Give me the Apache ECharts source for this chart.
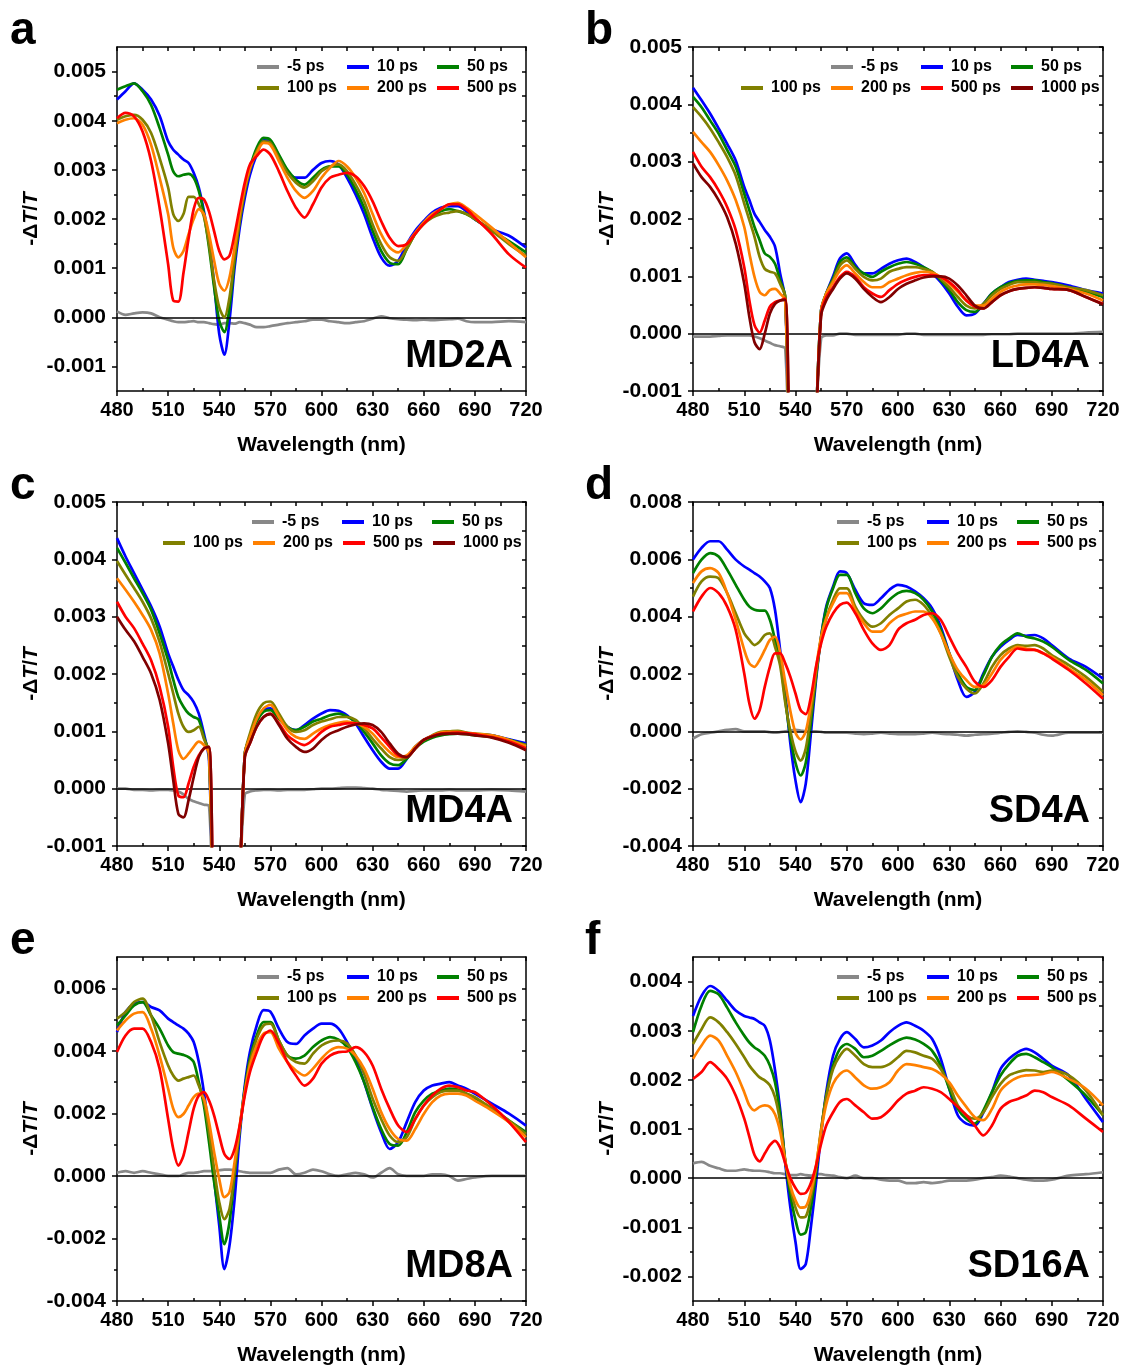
<!DOCTYPE html>
<html><head><meta charset="utf-8">
<script src="https://cdn.jsdelivr.net/npm/echarts@6.0.0/dist/echarts.min.js"></script>
<style>html,body{margin:0;padding:0;background:#fff}#chart{width:1123px;height:1369px}</style>
</head><body><div id="chart"></div>
<script>
// ---------- shared wavelength grid (nm) ----------
const wl = [480,485,490,495,500,505,510, 513,516,519,522,525,528,531,534,537,540,543,546,549,552,555,558, 562,566,570, 575,580,585,590,595,600,605,610,615,620,625,630,635,640,645,650,655,660,665,670,675,680,685,690, 700,710,720];
const names = ['-5 ps','10 ps','50 ps','100 ps','200 ps','500 ps','1000 ps'];
const xMajor = [480,510,540,570,600,630,660,690,720];
const xMinor = [495,525,555,585,615,645,675,705];
// y tick values in units of 1e-3
const yMajorA = [-1,0,1,2,3,4,5];       const yMinorA = [-0.5,0.5,1.5,2.5,3.5,4.5];
const yMajorB = [-1,0,1,2,3,4,5];       const yMinorB = [-0.5,0.5,1.5,2.5,3.5,4.5];
const yMajorD = [-4,-2,0,2,4,6,8];      const yMinorD = [-3,-1,1,3,5,7];
const yMajorE = [-4,-2,0,2,4,6];        const yMinorE = [-3,-1,1,3,5];
const yMajorF = [-2,-1,0,1,2,3,4];      const yMinorF = [-1.5,-0.5,0.5,1.5,2.5,3.5];

// ---------- data (-dT/T, units of 1e-3) ----------
// Panel a : MD2A
const aM5  = [0.12,0.05,0.08,0.10,0.08,0.00,-0.05, -0.08,-0.10,-0.10,-0.09,-0.08,-0.10,-0.10,-0.12,-0.14,-0.15,-0.12,-0.12,-0.13,-0.10,-0.12,-0.15, -0.20,-0.20,-0.18, -0.15,-0.12,-0.10,-0.08,-0.05,-0.05,-0.08,-0.10,-0.12,-0.10,-0.08,-0.03,0.02,-0.02,-0.04,-0.05,-0.06,-0.05,-0.06,-0.05,-0.04,-0.03,-0.08,-0.10, -0.10,-0.08,-0.10];
const a10  = [4.43,4.60,4.76,4.63,4.43,4.10,3.58, 3.41,3.31,3.21,3.14,2.94,2.64,2.16,1.55,0.68,-0.34,-0.76,-0.07,1.01,1.82,2.43,2.90, 3.31,3.60,3.58, 3.28,2.97,2.84,2.84,3.00,3.14,3.18,3.11,2.84,2.50,2.10,1.62,1.22,1.05,1.15,1.49,1.76,1.96,2.13,2.23,2.26,2.26,2.16,1.99, 1.79,1.66,1.42];
const a50  = [4.63,4.70,4.76,4.60,4.32,3.85,3.31, 2.97,2.87,2.90,2.92,2.84,2.57,2.10,1.42,0.61,-0.07,-0.30,0.20,1.15,1.96,2.57,3.04, 3.45,3.65,3.61, 3.31,3.00,2.80,2.70,2.84,3.00,3.07,3.07,2.90,2.60,2.23,1.76,1.35,1.11,1.08,1.39,1.70,1.93,2.06,2.16,2.20,2.16,2.10,2.00, 1.76,1.55,1.32];
const a100 = [4.02,4.09,4.12,4.02,3.75,3.24,2.64, 2.10,1.96,2.10,2.45,2.45,2.30,2.05,1.49,0.74,0.20,0.00,0.40,1.22,1.96,2.57,3.00, 3.38,3.58,3.55, 3.24,2.94,2.74,2.64,2.77,2.97,3.07,3.11,2.97,2.70,2.36,1.89,1.49,1.22,1.15,1.39,1.70,1.90,2.03,2.10,2.13,2.16,2.10,2.00, 1.76,1.49,1.25];
const a200 = [3.95,4.02,4.05,3.92,3.51,2.84,2.10, 1.42,1.22,1.35,1.69,2.00,2.20,2.10,1.69,1.15,0.68,0.54,0.81,1.42,2.10,2.64,3.04, 3.34,3.55,3.51, 3.18,2.84,2.57,2.43,2.57,2.84,3.04,3.18,3.07,2.84,2.53,2.10,1.69,1.42,1.32,1.49,1.72,1.93,2.10,2.20,2.30,2.33,2.23,2.10, 1.82,1.52,1.22];
const a500 = [4.05,4.16,4.09,3.78,3.18,2.23,1.08, 0.34,0.32,0.90,1.60,2.20,2.43,2.40,2.15,1.75,1.35,1.18,1.25,1.69,2.23,2.74,3.11, 3.28,3.41,3.31, 2.97,2.57,2.23,2.03,2.30,2.64,2.84,2.90,2.94,2.87,2.67,2.36,1.96,1.62,1.45,1.49,1.70,1.90,2.06,2.20,2.30,2.30,2.20,2.03, 1.69,1.28,1.01];
// Panel b : LD4A
const bM5  = [-0.05,-0.05,-0.05,-0.04,-0.03,-0.03,-0.03, -0.03,-0.05,-0.08,-0.12,-0.16,-0.20,-0.22,-0.26,-3,-5,-5,-5,-5,-1.6,-0.08,-0.03, -0.03,0.00,0.00, -0.02,-0.02,-0.02,-0.02,-0.02,-0.02,0.00,0.00,-0.02,-0.02,-0.02,-0.02,-0.02,-0.02,-0.02,-0.02,-0.01,-0.01,-0.01,0.00,0.00,0.00,0.00,0.00, 0.00,0.02,0.03];
const b10  = [4.29,4.07,3.84,3.58,3.31,3.02,2.56, 2.33,2.09,1.95,1.81,1.69,1.52,1.05,0.58,-3,-5,-5,-5,-5,-1.6,0.41,0.70, 1.00,1.31,1.40, 1.20,1.05,1.05,1.13,1.22,1.28,1.31,1.25,1.16,1.05,0.90,0.70,0.47,0.32,0.35,0.52,0.70,0.81,0.90,0.94,0.96,0.94,0.92,0.90, 0.84,0.76,0.70];
const b50  = [4.13,3.95,3.72,3.49,3.20,2.91,2.44, 2.15,1.86,1.63,1.40,1.34,1.22,0.93,0.64,-3,-5,-5,-5,-5,-1.6,0.41,0.70, 0.96,1.25,1.33, 1.16,1.05,0.99,1.08,1.16,1.22,1.25,1.22,1.16,1.08,0.93,0.76,0.55,0.41,0.38,0.52,0.70,0.81,0.88,0.92,0.93,0.93,0.90,0.88, 0.81,0.73,0.64];
const b100 = [3.95,3.78,3.58,3.34,3.08,2.76,2.27, 1.98,1.69,1.34,1.13,1.08,1.05,0.87,0.64,-3,-5,-5,-5,-5,-1.6,0.40,0.70, 0.93,1.19,1.28, 1.13,0.99,0.93,0.96,1.08,1.13,1.16,1.16,1.13,1.08,0.96,0.81,0.64,0.49,0.44,0.52,0.67,0.78,0.85,0.90,0.90,0.90,0.88,0.87, 0.81,0.76,0.67];
const b200 = [3.52,3.34,3.17,2.94,2.67,2.33,1.86, 1.40,0.99,0.73,0.67,0.76,0.78,0.70,0.58,-3,-5,-5,-5,-5,-1.6,0.40,0.70, 0.90,1.10,1.19, 1.05,0.90,0.81,0.81,0.90,0.96,1.02,1.06,1.08,1.06,0.99,0.87,0.73,0.58,0.49,0.49,0.61,0.73,0.80,0.84,0.86,0.86,0.85,0.83, 0.78,0.70,0.58];
const b500 = [3.17,2.91,2.73,2.50,2.21,1.81,1.16, 0.58,0.15,0.02,0.23,0.47,0.55,0.58,0.61,-3,-5,-5,-5,-5,-1.7,0.35,0.64, 0.81,0.99,1.08, 0.99,0.81,0.70,0.64,0.76,0.87,0.94,0.99,1.02,1.02,0.99,0.90,0.76,0.58,0.47,0.44,0.55,0.67,0.74,0.78,0.80,0.81,0.80,0.78, 0.76,0.64,0.52];
const b1000= [2.97,2.73,2.56,2.33,2.03,1.57,0.87, 0.29,-0.15,-0.27,0.00,0.35,0.52,0.58,0.59,-3,-5,-5,-5,-5,-1.7,0.32,0.58, 0.78,0.96,1.05, 0.96,0.78,0.64,0.55,0.64,0.78,0.87,0.93,0.98,1.00,1.00,0.96,0.84,0.67,0.49,0.44,0.55,0.67,0.74,0.78,0.80,0.81,0.80,0.78, 0.76,0.64,0.51];
// Panel c : MD4A
const cM5  = [0.00,0.00,-0.02,-0.02,-0.03,-0.02,-0.02, -0.03,-0.05,-0.10,-0.18,-0.22,-0.25,-0.28,-0.30,-3,-5,-5,-5,-5,-1.7,-0.10,-0.05, -0.03,-0.02,-0.02, -0.03,-0.02,-0.02,-0.02,-0.01,0.00,0.00,0.01,0.02,0.02,0.01,0.00,-0.02,-0.03,-0.04,-0.05,-0.04,-0.03,-0.03,-0.03,-0.02,-0.03,-0.03,-0.03, -0.02,-0.03,-0.05];
const c10  = [4.37,4.05,3.76,3.47,3.18,2.83,2.36, 2.13,1.90,1.72,1.63,1.51,1.31,0.96,0.50,-3,-5,-5,-5,-5,-1.8,0.61,0.90, 1.20,1.37,1.40, 1.25,1.08,1.02,1.11,1.22,1.31,1.37,1.36,1.28,1.14,0.90,0.67,0.47,0.35,0.35,0.52,0.73,0.85,0.92,0.96,0.98,0.99,0.97,0.95, 0.93,0.86,0.79];
const c50  = [4.20,3.94,3.67,3.41,3.12,2.71,2.24, 1.90,1.60,1.43,1.31,1.25,1.20,0.90,0.61,-3,-5,-5,-5,-5,-1.8,0.61,0.90, 1.17,1.34,1.37, 1.22,1.08,1.02,1.08,1.17,1.22,1.28,1.31,1.26,1.17,0.99,0.79,0.58,0.44,0.41,0.52,0.70,0.82,0.89,0.93,0.95,0.96,0.95,0.93, 0.90,0.85,0.76];
const c100 = [3.97,3.73,3.50,3.26,2.97,2.56,2.01, 1.66,1.31,1.08,0.99,1.02,1.08,0.87,0.61,-3,-5,-5,-5,-5,-1.8,0.60,0.96, 1.31,1.49,1.52, 1.31,1.08,0.99,1.02,1.11,1.17,1.21,1.25,1.25,1.20,1.05,0.87,0.70,0.55,0.50,0.55,0.73,0.85,0.93,0.99,1.00,1.01,0.98,0.96, 0.93,0.85,0.76];
const c200 = [3.67,3.47,3.26,3.03,2.77,2.36,1.66, 1.14,0.67,0.52,0.61,0.73,0.82,0.76,0.61,-3,-5,-5,-5,-5,-1.8,0.60,0.90, 1.22,1.40,1.46, 1.25,1.02,0.90,0.87,0.96,1.05,1.11,1.15,1.17,1.14,1.08,0.96,0.79,0.64,0.55,0.58,0.73,0.85,0.92,0.98,0.99,0.99,0.97,0.96, 0.93,0.85,0.74];
const c500 = [3.26,3.00,2.80,2.53,2.24,1.78,1.08, 0.38,-0.12,-0.15,0.09,0.38,0.58,0.70,0.73,-3,-5,-5,-5,-5,-1.8,0.55,0.79, 1.08,1.25,1.31, 1.14,0.93,0.82,0.76,0.85,0.99,1.08,1.11,1.14,1.14,1.11,1.05,0.90,0.73,0.58,0.55,0.70,0.85,0.92,0.96,0.97,0.98,0.97,0.95, 0.90,0.82,0.70];
const c1000= [3.00,2.77,2.57,2.30,2.01,1.55,0.79, 0.15,-0.44,-0.50,-0.20,0.20,0.55,0.70,0.73,-3,-5,-5,-5,-5,-1.8,0.55,0.79, 1.08,1.25,1.30, 1.11,0.87,0.73,0.64,0.70,0.85,0.96,1.02,1.08,1.12,1.14,1.11,0.99,0.79,0.61,0.55,0.70,0.85,0.91,0.95,0.96,0.96,0.95,0.93, 0.89,0.80,0.67];
// Panel d : SD4A
const dM5  = [-0.25,-0.10,-0.05,0.00,0.05,0.08,0.00, 0.00,0.00,0.00,0.00,-0.03,-0.05,-0.03,0.00,0.03,0.05,0.03,0.00,0.00,0.00,-0.02,-0.05, -0.05,-0.05,-0.05, -0.08,-0.10,-0.08,-0.05,-0.08,-0.10,-0.10,-0.10,-0.08,-0.05,-0.08,-0.10,-0.12,-0.15,-0.12,-0.10,-0.08,-0.05,-0.02,0.00,-0.02,-0.05,-0.12,-0.15, -0.05,-0.05,-0.05];
const d10  = [5.99,6.40,6.63,6.63,6.34,5.99,5.75, 5.64,5.52,5.40,5.23,5.00,4.24,2.84,1.32,-0.43,-1.72,-2.47,-1.83,-0.08,1.79,3.30,4.35, 5.05,5.58,5.52, 4.94,4.47,4.41,4.64,4.94,5.11,5.05,4.88,4.64,4.29,3.65,2.72,1.79,1.20,1.38,2.02,2.60,2.95,3.19,3.36,3.33,3.36,3.24,3.01, 2.54,2.25,1.84];
const d50  = [5.52,5.99,6.22,6.10,5.64,5.11,4.59, 4.35,4.24,4.21,4.21,3.89,3.20,2.50,1.10,-0.20,-1.10,-1.54,-1.10,0.30,1.90,3.30,4.29, 4.99,5.46,5.46, 4.82,4.29,4.12,4.29,4.59,4.82,4.90,4.82,4.59,4.18,3.54,2.72,2.02,1.55,1.44,1.96,2.60,3.01,3.24,3.42,3.30,3.24,3.13,2.95, 2.49,2.14,1.67];
const d100 = [4.70,5.23,5.40,5.34,4.82,4.12,3.42, 3.19,3.01,3.13,3.36,3.42,2.95,2.30,1.00,0.00,-0.70,-1.02,-0.60,0.60,2.00,3.19,3.94, 4.59,4.99,4.99, 4.35,3.89,3.65,3.77,4.06,4.29,4.53,4.59,4.41,4.00,3.42,2.60,1.90,1.49,1.32,1.67,2.25,2.66,2.89,3.01,2.98,3.01,2.89,2.66, 2.31,1.90,1.38];
const d200 = [5.17,5.58,5.69,5.52,4.82,3.89,2.84, 2.37,2.25,2.49,2.84,3.19,3.30,2.75,1.70,0.70,-0.05,-0.28,0.00,0.95,2.20,3.30,3.94, 4.47,4.82,4.82, 4.24,3.77,3.48,3.48,3.77,4.00,4.10,4.18,4.18,3.94,3.42,2.72,2.14,1.79,1.55,1.61,2.02,2.49,2.78,2.95,2.89,2.84,2.72,2.60, 2.19,1.79,1.26];
const d500 = [4.18,4.70,5.00,4.82,4.35,3.54,2.02, 0.97,0.44,0.74,1.55,2.25,2.72,2.72,2.37,1.90,1.32,0.74,0.60,1.20,2.25,3.07,3.65, 4.12,4.41,4.49, 4.12,3.54,3.07,2.84,3.01,3.54,3.77,3.89,4.06,4.12,3.89,3.30,2.72,2.25,1.73,1.55,1.79,2.25,2.60,2.89,2.84,2.84,2.72,2.54, 2.14,1.67,1.14];
// Panel e : MD8A
const eM5  = [0.10,0.15,0.10,0.15,0.10,0.05,0.00, 0.00,0.00,0.05,0.10,0.10,0.12,0.15,0.15,0.15,0.18,0.20,0.20,0.18,0.15,0.12,0.10, 0.10,0.10,0.10, 0.20,0.25,0.05,0.10,0.20,0.15,0.05,0.00,0.05,0.10,0.05,-0.05,0.10,0.25,0.05,0.00,0.00,0.00,0.05,0.05,0.00,-0.15,-0.10,-0.05, 0.00,0.00,0.00];
const e10  = [4.60,5.24,5.51,5.56,5.40,5.29,5.03, 4.92,4.81,4.71,4.55,4.28,3.64,2.68,1.40,-0.10,-1.59,-2.98,-2.23,-0.74,1.29,2.89,3.96, 4.81,5.30,5.25, 4.71,4.28,4.22,4.49,4.71,4.87,4.87,4.71,4.28,3.75,3.00,2.15,1.40,0.86,1.08,1.72,2.36,2.73,2.89,2.95,3.00,2.89,2.79,2.63, 2.31,1.99,1.61];
const e50  = [4.81,5.13,5.45,5.56,5.13,4.71,4.17, 3.96,3.91,3.87,3.80,3.64,3.00,2.25,1.08,-0.20,-1.27,-2.18,-1.48,0.00,1.50,2.79,3.75, 4.49,4.92,4.92, 4.33,3.85,3.75,3.85,4.12,4.33,4.44,4.36,4.12,3.64,3.00,2.20,1.50,1.02,0.97,1.40,2.04,2.41,2.63,2.73,2.79,2.76,2.63,2.49, 2.15,1.77,1.40];
const e100 = [5.03,5.24,5.56,5.67,5.13,4.28,3.53, 3.21,3.05,3.11,3.16,3.21,2.89,2.40,1.40,0.22,-0.84,-1.38,-1.06,0.12,1.50,2.68,3.64, 4.39,4.81,4.87, 4.33,3.85,3.64,3.59,3.91,4.17,4.30,4.33,4.23,3.85,3.27,2.47,1.82,1.29,1.08,1.24,1.82,2.25,2.52,2.68,2.73,2.73,2.63,2.52, 2.15,1.77,1.34];
const e200 = [4.65,4.97,5.19,5.24,4.71,3.85,2.79, 2.15,1.88,1.98,2.25,2.52,2.63,2.47,1.72,0.76,-0.10,-0.68,-0.52,0.44,1.61,2.68,3.53, 4.17,4.55,4.60, 4.07,3.64,3.37,3.21,3.43,3.75,4.01,4.12,4.07,3.85,3.43,2.79,2.04,1.50,1.18,1.13,1.50,1.98,2.36,2.57,2.63,2.63,2.57,2.41, 2.09,1.72,1.24];
const e500 = [3.96,4.49,4.71,4.71,4.28,3.43,1.82, 0.86,0.33,0.65,1.40,2.15,2.57,2.68,2.41,1.93,1.29,0.70,0.54,0.86,1.61,2.57,3.32, 3.96,4.49,4.65, 4.23,3.64,3.21,2.89,3.11,3.59,3.85,3.96,3.98,4.12,3.96,3.53,2.79,2.15,1.61,1.40,1.82,2.25,2.57,2.79,2.89,2.84,2.73,2.68, 2.25,1.72,1.08];
// Panel f : SD16A
const fM5  = [0.30,0.33,0.25,0.20,0.15,0.15,0.18, 0.16,0.15,0.15,0.14,0.12,0.10,0.10,0.08,0.06,0.06,0.08,0.06,0.05,0.08,0.08,0.06, 0.05,0.02,0.00, 0.05,0.00,0.00,-0.03,-0.05,-0.05,-0.10,-0.10,-0.08,-0.10,-0.08,-0.05,-0.05,-0.05,-0.03,0.00,0.02,0.05,0.03,0.00,-0.03,-0.05,-0.05,-0.03, 0.05,0.08,0.12];
const f10  = [3.30,3.71,3.91,3.81,3.61,3.41,3.30, 3.27,3.24,3.17,3.10,2.80,2.20,1.40,0.30,-0.60,-1.30,-1.85,-1.75,-1.00,-0.10,0.90,1.75, 2.49,2.83,2.97, 2.83,2.66,2.70,2.80,2.97,3.10,3.17,3.10,3.00,2.83,2.43,1.82,1.28,1.11,1.07,1.34,1.75,2.22,2.43,2.56,2.63,2.56,2.43,2.29, 2.09,1.61,1.14];
const f50  = [2.97,3.51,3.81,3.74,3.47,3.17,2.90, 2.76,2.66,2.59,2.49,2.29,1.95,1.30,0.35,-0.35,-0.85,-1.15,-1.10,-0.60,0.10,0.95,1.68, 2.29,2.63,2.73, 2.63,2.46,2.49,2.59,2.70,2.80,2.86,2.82,2.73,2.59,2.29,1.82,1.41,1.21,1.11,1.38,1.75,2.09,2.32,2.49,2.53,2.46,2.36,2.26, 1.99,1.68,1.28];
const f100 = [2.73,3.03,3.27,3.17,2.97,2.73,2.46, 2.29,2.16,2.05,1.99,1.89,1.65,1.15,0.35,-0.20,-0.60,-0.80,-0.78,-0.40,0.20,1.00,1.65, 2.22,2.49,2.63, 2.49,2.32,2.26,2.26,2.32,2.46,2.59,2.56,2.49,2.43,2.22,1.89,1.48,1.28,1.21,1.34,1.65,1.92,2.09,2.16,2.20,2.19,2.16,2.19, 2.09,1.78,1.28];
const f200 = [2.43,2.70,2.90,2.80,2.49,2.16,1.75, 1.48,1.38,1.45,1.48,1.45,1.30,0.95,0.35,-0.15,-0.45,-0.60,-0.58,-0.28,0.25,0.95,1.50, 1.92,2.12,2.19, 2.05,1.89,1.82,1.85,1.95,2.19,2.32,2.30,2.26,2.22,2.12,1.95,1.68,1.45,1.24,1.18,1.41,1.78,1.95,2.05,2.09,2.10,2.12,2.16, 2.02,1.82,1.48];
const f500 = [2.02,2.16,2.36,2.22,2.02,1.68,1.21, 0.84,0.47,0.34,0.50,0.67,0.76,0.62,0.30,0.00,-0.20,-0.32,-0.30,-0.10,0.25,0.70,1.07, 1.34,1.55,1.61, 1.48,1.34,1.21,1.24,1.38,1.58,1.72,1.78,1.85,1.82,1.75,1.61,1.45,1.28,1.07,0.87,1.07,1.41,1.55,1.61,1.68,1.78,1.75,1.65, 1.48,1.21,0.94];

// ---------- layout / style ----------
const colors = ['#888888','#0000ff','#008000','#808000','#ff8000','#ff0000','#800000'];
const FONT = '"Liberation Sans", Arial, Helvetica, sans-serif';
const colLeft = [117, 693], colWidth = [409, 410], rowTop = [47, 502, 957], H = 344;
const panels = [
  {letter:'a', sample:'MD2A', col:0,row:0, yMin:-1.5,yMax:5.5, yMajor:yMajorA, yMinor:yMinorA, data:[aM5,a10,a50,a100,a200,a500], leg1:257, leg2:257},
  {letter:'b', sample:'LD4A', col:1,row:0, yMin:-1,yMax:5, yMajor:yMajorB, yMinor:yMinorB, data:[bM5,b10,b50,b100,b200,b500,b1000], leg1:831, leg2:741},
  {letter:'c', sample:'MD4A', col:0,row:1, yMin:-1,yMax:5, yMajor:yMajorB, yMinor:yMinorB, data:[cM5,c10,c50,c100,c200,c500,c1000], leg1:252, leg2:163},
  {letter:'d', sample:'SD4A', col:1,row:1, yMin:-4,yMax:8, yMajor:yMajorD, yMinor:yMinorD, data:[dM5,d10,d50,d100,d200,d500], leg1:837, leg2:837},
  {letter:'e', sample:'MD8A', col:0,row:2, yMin:-4,yMax:7, yMajor:yMajorE, yMinor:yMinorE, data:[eM5,e10,e50,e100,e200,e500], leg1:257, leg2:257},
  {letter:'f', sample:'SD16A', col:1,row:2, yMin:-2.5,yMax:4.5, yMajor:yMajorF, yMinor:yMinorF, data:[fM5,f10,f50,f100,f200,f500], leg1:837, leg2:837}
];
const letterX = [10, 585];

const black = {color:'#000', width:1.5};
const option = {animation:false, backgroundColor:'#fff', grid:[], xAxis:[], yAxis:[], series:[], legend:[], graphic:[]};
const legendText = {fontSize:16, fontWeight:'bold', fontFamily:FONT, color:'#000', width:50, lineHeight:16, padding:[0,0,0,3]};

panels.forEach((p, gi) => {
  const left = colLeft[p.col], top = rowTop[p.row], W = colWidth[p.col];
  option.grid.push({left:left, top:top, width:W, height:H});
  const xi = option.xAxis.length, yi = option.yAxis.length;
  const xBase = {type:'value', gridIndex:gi, min:480, max:720, splitLine:{show:false}};
  option.xAxis.push(Object.assign({}, xBase, {position:'bottom', interval:30,
    axisLine:{show:true, onZero:false, lineStyle:black},
    axisTick:{show:true, inside:false, length:5, customValues:xMajor, lineStyle:black},
    axisLabel:{show:true, customValues:xMajor, margin:9, fontSize:20, fontWeight:'bold', fontFamily:FONT, color:'#000'},
    name:'Wavelength (nm)', nameLocation:'middle', nameGap:44,
    nameTextStyle:{fontSize:21, fontWeight:'bold', fontFamily:FONT, color:'#000'}}));
  option.xAxis.push(Object.assign({}, xBase, {position:'bottom',
    axisLine:{show:false, onZero:false}, axisLabel:{show:false},
    axisTick:{show:true, inside:true, length:3, customValues:xMinor, lineStyle:black}}));
  option.xAxis.push(Object.assign({}, xBase, {position:'top',
    axisLine:{show:true, onZero:false, lineStyle:black}, axisLabel:{show:false},
    axisTick:{show:true, inside:true, length:4, customValues:xMajor.concat(xMinor), lineStyle:black}}));

  const yBase = {type:'value', gridIndex:gi, min:p.yMin, max:p.yMax, splitLine:{show:false}};
  option.yAxis.push(Object.assign({}, yBase, {position:'left',
    axisLine:{show:true, onZero:false, lineStyle:black},
    axisTick:{show:true, inside:false, length:5, customValues:p.yMajor, lineStyle:black},
    axisLabel:{show:true, customValues:p.yMajor, margin:11, fontSize:21, fontWeight:'bold', fontFamily:FONT, color:'#000',
      formatter: v => (v/1000).toFixed(3)},
    name:'-\u0394{i|T}/{i|T}', nameLocation:'middle', nameGap:75,
    nameTextStyle:{fontSize:21, fontWeight:'bold', fontFamily:FONT, color:'#000',
      rich:{i:{fontSize:21, fontWeight:'bold', fontStyle:'italic', fontFamily:FONT, color:'#000'}}}}));
  option.yAxis.push(Object.assign({}, yBase, {position:'left',
    axisLine:{show:false, onZero:false}, axisLabel:{show:false},
    axisTick:{show:true, inside:false, length:3, customValues:p.yMinor, lineStyle:black}}));
  option.yAxis.push(Object.assign({}, yBase, {position:'right',
    axisLine:{show:true, onZero:false, lineStyle:black}, axisLabel:{show:false},
    axisTick:{show:true, inside:true, length:4, customValues:p.yMajor.concat(p.yMinor), lineStyle:black}}));

  p.data.forEach((arr, si) => {
    const s = {type:'line', name:names[si], xAxisIndex:xi, yAxisIndex:yi,
      data: wl.map((x, k) => [x, arr[k]]),
      showSymbol:false, symbol:'none', smooth:0.3, clip:true, silent:true,
      lineStyle:{width:2.7, color:colors[si]}, itemStyle:{color:colors[si]},
      emphasis:{disabled:true}, z:2+si};
    if (si === 0) {
      s.markLine = {silent:true, symbol:'none', label:{show:false}, animation:false,
        lineStyle:{color:'#000', width:1.5, type:'solid'}, data:[{yAxis:0}]};
    }
    option.series.push(s);
  });

  const n = p.data.length;
  option.legend.push({data:names.slice(0,3), left:p.leg1, top:top+12, orient:'horizontal', padding:0,
    icon:'rect', itemWidth:22, itemHeight:4, itemGap:10, selectedMode:false, textStyle:legendText});
  option.legend.push({data:names.slice(3,n), left:p.leg2, top:top+33, orient:'horizontal', padding:0,
    icon:'rect', itemWidth:22, itemHeight:4, itemGap:10, selectedMode:false, textStyle:legendText});

  option.graphic.push({type:'text', x:letterX[p.col], y:top-16, silent:true,
    style:{text:p.letter, fill:'#000', font:'bold 46px ' + FONT, align:'left', verticalAlign:'middle',
      textAlign:'left', textVerticalAlign:'middle'}});
  option.graphic.push({type:'text', x:left+W-13, y:top+310, silent:true,
    style:{text:p.sample, fill:'#000', font:'bold 38px ' + FONT, align:'right', verticalAlign:'middle',
      textAlign:'right', textVerticalAlign:'middle'}});
});

const chart = echarts.init(document.getElementById('chart'), null, {renderer:'canvas', width:1123, height:1369});
chart.setOption(option);
</script></body></html>
